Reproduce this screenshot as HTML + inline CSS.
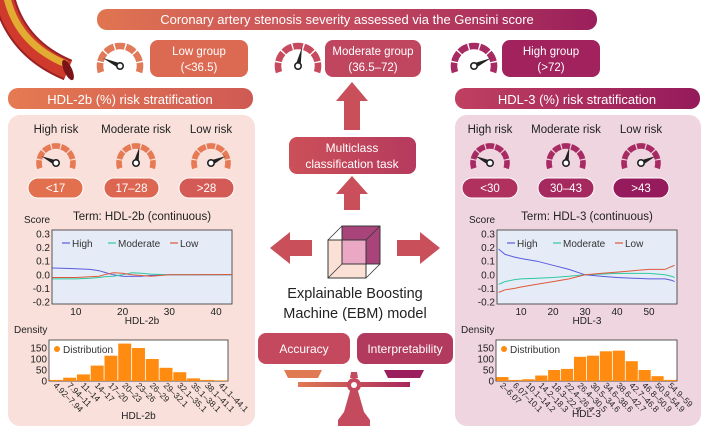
<!DOCTYPE html>
<html><head><meta charset="utf-8"><style>
body{margin:0;background:#fff}
svg{display:block;font-family:"Liberation Sans",sans-serif}
</style></head><body>
<svg id="s" width="708" height="433" viewBox="0 0 708 433" xmlns="http://www.w3.org/2000/svg">
<defs>
<linearGradient id="gTop" x1="0" x2="1"><stop offset="0" stop-color="#e07550"/><stop offset="0.5" stop-color="#c44a5e"/><stop offset="1" stop-color="#9a1f5c"/></linearGradient>
<linearGradient id="gL" x1="0" x2="1"><stop offset="0" stop-color="#e57a52"/><stop offset="1" stop-color="#cf5a54"/></linearGradient>
<linearGradient id="gR" x1="0" x2="1"><stop offset="0" stop-color="#c04060"/><stop offset="1" stop-color="#951a5b"/></linearGradient>
<linearGradient id="gC" x1="0" x2="1"><stop offset="0" stop-color="#cc5058"/><stop offset="1" stop-color="#b53a5e"/></linearGradient>
<linearGradient id="gScale" x1="0" x2="1"><stop offset="0" stop-color="#e07a52"/><stop offset="1" stop-color="#a8285e"/></linearGradient>
<clipPath id="clipL"><rect x="52" y="230" width="180" height="74"/></clipPath>
<clipPath id="clipR"><rect x="497" y="230" width="180" height="74"/></clipPath>
</defs>

<!-- artery -->
<g>
<path d="M4,-2 C12,30 32,55 68,70" stroke="#9a2226" stroke-width="22" fill="none"/>
<path d="M4,-2 C12,30 32,55 68,70" stroke="#cf3a2c" stroke-width="18" fill="none"/>
<path d="M7,-2 C14,27 32,50 66,64" stroke="#e3b832" stroke-width="7" fill="none" opacity="0.9"/>
<ellipse cx="68" cy="70" rx="4" ry="11" fill="#7a1418" transform="rotate(-25 68 70)"/>
</g>

<!-- top title -->
<rect x="97" y="9" width="500" height="21" rx="10" fill="url(#gTop)"/>
<text x="347" y="24" text-anchor="middle" fill="#fff" font-size="13">Coronary artery stenosis severity assessed via the Gensini score</text>

<rect x="150" y="40" width="98" height="37" rx="8" fill="#dc6a52"/>
<text x="199" y="55" text-anchor="middle" fill="#fff" font-size="11.5">Low group</text>
<text x="199" y="71" text-anchor="middle" fill="#fff" font-size="11.5">(&lt;36.5)</text>
<rect x="325" y="40" width="96" height="37" rx="8" fill="#c04660"/>
<text x="373" y="55" text-anchor="middle" fill="#fff" font-size="11.5">Moderate group</text>
<text x="373" y="71" text-anchor="middle" fill="#fff" font-size="11.5">(36.5–72)</text>
<rect x="502" y="40" width="98" height="37" rx="8" fill="#a1225c"/>
<text x="551" y="55" text-anchor="middle" fill="#fff" font-size="11.5">High group</text>
<text x="551" y="71" text-anchor="middle" fill="#fff" font-size="11.5">(&gt;72)</text>

<!-- side headers -->
<rect x="8" y="88" width="245" height="21" rx="10" fill="url(#gL)"/>
<text x="130" y="104" text-anchor="middle" fill="#fff" font-size="13">HDL-2b (%) risk stratification</text>
<rect x="455" y="88" width="245" height="21" rx="10" fill="url(#gR)"/>
<text x="577" y="104" text-anchor="middle" fill="#fff" font-size="13">HDL-3 (%) risk stratification</text>

<rect x="8" y="115" width="247" height="311" rx="12" fill="#f9e0da"/>
<rect x="455" y="115" width="246" height="311" rx="12" fill="#efd5e0"/>

<g id="gauges"></g>

<!-- center -->
<g fill="#c9505a">
<path d="M352,82 L368,101 L360,101 L360,130 L344,130 L344,101 L336,101 Z"/>
<path d="M352,176 L368,194 L360,194 L360,210 L344,210 L344,194 L336,194 Z"/>
<path d="M270,248 L290,232 L290,240 L312,240 L312,256 L290,256 L290,264 Z"/>
<path d="M440,248 L420,232 L420,240 L397,240 L397,256 L420,256 L420,264 Z"/>
</g>
<rect x="289" y="137" width="127" height="37" rx="8" fill="url(#gC)"/>
<text x="352" y="152" text-anchor="middle" fill="#fff" font-size="12">Multiclass</text>
<text x="352" y="168" text-anchor="middle" fill="#fff" font-size="12">classification task</text>

<g stroke="#333" stroke-width="0.8">
<rect x="328" y="240" width="38" height="38" fill="#fbe0d6"/>
<polygon points="342,226 380,226 380,264 342,264" fill="#a8447a"/>
<rect x="342" y="240" width="24" height="24" fill="#eba8c4"/>
<line x1="328" y1="240" x2="342" y2="226"/><line x1="366" y1="240" x2="380" y2="226"/><line x1="366" y1="278" x2="380" y2="264"/><line x1="328" y1="278" x2="342" y2="264"/>
<rect x="328" y="240" width="38" height="38" fill="none"/>
<polygon points="342,226 380,226 380,264 342,264" fill="none"/>
</g>
<text x="355" y="298" text-anchor="middle" font-size="14.5" fill="#222">Explainable Boosting</text>
<text x="355" y="318" text-anchor="middle" font-size="14.5" fill="#222">Machine (EBM) model</text>

<rect x="258" y="333" width="92" height="31" rx="8" fill="#c4485e"/>
<text x="304" y="353" text-anchor="middle" fill="#fff" font-size="12">Accuracy</text>
<rect x="357" y="333" width="96" height="31" rx="8" fill="#b23a5e"/>
<text x="405" y="353" text-anchor="middle" fill="#fff" font-size="12">Interpretability</text>

<g>
<path d="M284,370 L322,370 L318,378 L288,378 Z" fill="#e07a52"/>
<path d="M384,370 L424,370 L420,378 L388,378 Z" fill="#9a1f5c"/>
<path d="M298,382 L410,382 L410,387 L298,387 Z" fill="url(#gScale)"/>
<circle cx="354" cy="385" r="7" fill="#c44a5e"/><circle cx="354" cy="385" r="3" fill="#fff"/>
<path d="M351,372 L357,372 L358,378 L350,378 Z" fill="#c44a5e"/>
<path d="M350,391 L358,391 L364,412 L370,420 L370,426 L338,426 L338,420 L344,412 Z" fill="#c44a5e"/>
</g>

<g id="charts"></g>
</svg>
<script>
const NS='http://www.w3.org/2000/svg';
function el(tag,attrs,parent,txt){const e=document.createElementNS(NS,tag);for(const k in attrs)e.setAttribute(k,attrs[k]);if(txt!==undefined)e.textContent=txt;parent.appendChild(e);return e;}

// gauges
const gaugeLayer=document.getElementById('gauges');
function gauge(cx,cy,r,color,needleDeg){
  const g=el('g',{},gaugeLayer);
  
  
  const a0=200,a1=-20,n=7;
  const span=(a0-a1)/n;
  for(let i=0;i<n;i++){
    const s=(a0-i*span-2)*Math.PI/180, t=(a0-(i+1)*span+2)*Math.PI/180;
    el('path',{d:`M${cx+r*Math.cos(s)},${cy-r*Math.sin(s)} A${r},${r} 0 0 1 ${cx+r*Math.cos(t)},${cy-r*Math.sin(t)}`,stroke:color,'stroke-width':r*0.33,fill:'none'},g);
  }
  const a=needleDeg*Math.PI/180,L=r*0.95;
  const tx=cx+L*Math.cos(a),ty=cy-L*Math.sin(a);
  const px=Math.sin(a)*2.6,py=Math.cos(a)*2.6;
  el('polygon',{points:`${tx},${ty} ${cx+px},${cy+py} ${cx-px},${cy-py}`,fill:'#222'},g);
  el('circle',{cx:cx,cy:cy,r:3.2,fill:'#fff',stroke:'#222','stroke-width':1.6},g);
}
gauge(120,66,20,'#e07a58',155);
gauge(298,66,20,'#c84a5e',78);
gauge(474,66,20,'#a82a62',25);
[[56,'<17'],[136,'17–28'],[211,'>28']].forEach((p,i)=>{gauge(p[0],163,17,'#e57a55',[155,78,25][i]);});
[[490,'<30'],[566,'30–43'],[641,'>43']].forEach((p,i)=>{gauge(p[0],163,17,'#a82a62',[155,78,25][i]);});
function pill(x,w,color,txt,name){
  const r=el('rect',{x:x,y:178,width:w,height:20,rx:10,fill:color,stroke:'#fff','stroke-width':1},gaugeLayer);
  
  
  el('text',{x:x+w/2,y:192,'text-anchor':'middle',fill:'#fff','font-size':11.5},gaugeLayer,txt);
}
pill(28,55,'#e2704f','<17','pill-lt17');pill(104,55,'#dc6652','17–28','pill-17-28');pill(179,55,'#d45a55','>28','pill-gt28');
pill(462,56,'#b0305e','<30','pill-lt30');pill(538,56,'#a5285e','30–43','pill-30-43');pill(613,56,'#951b5c','>43','pill-gt43');
[[56,'High risk'],[136,'Moderate risk'],[211,'Low risk'],[490,'High risk'],[566,'Moderate risk'],[641,'Low risk']].forEach(p=>{
  const t=el('text',{x:p[0],y:133,'text-anchor':'middle','font-size':11.5,fill:'#222'},gaugeLayer,p[1]);
  
  
});

// ===== chart data =====
const hdl2bX=[5,8,10,13,15,16,18,20,22,24,26,30,35,44];
const hdl2bHigh=[0.05,0.047,0.045,0.04,0.03,0.02,0.0,-0.01,-0.012,-0.01,-0.005,0.0,0.0,0.0];
const hdl2bModerate=[-0.03,-0.03,-0.03,-0.025,-0.02,-0.015,-0.01,0.0,0.015,0.012,0.005,0.0,0.0,0.0];
const hdl2bLow=[-0.02,-0.02,-0.02,-0.015,-0.01,0.0,0.015,0.012,0.0,-0.005,-0.01,0.0,0.0,0.002];
const hdl3X=[3,4,5,8,10,15,20,25,30,35,40,45,50,55,57,58];
const hdl3High=[0.19,0.17,0.15,0.13,0.12,0.1,0.07,0.04,0.0,-0.01,-0.02,-0.025,-0.03,-0.03,-0.04,-0.05];
const hdl3Moderate=[-0.07,-0.06,-0.05,-0.035,-0.03,-0.025,-0.02,-0.01,0.0,0.005,0.01,0.01,0.01,0.0,-0.01,-0.02];
const hdl3Low=[-0.13,-0.12,-0.11,-0.1,-0.09,-0.07,-0.05,-0.03,0.0,0.01,0.02,0.03,0.04,0.04,0.06,0.07];
const scoreTicks=[0.3,0.2,0.1,0.0,-0.1,-0.2];
const scoreTickLabels=['0.3','0.2','0.1','0.0','-0.1','-0.2'];
const hdl2bXTicks=[10,20,30,40];
const hdl3XTicks=[10,20,30,40,50];
const hdl2bBins=['4.92–7.94','7.94–11','11–14','14–17','17–20','20–23','23–26','26–29','29–32.1','32.1–35.1','35.1–38.1','38.1–41.1','41.1–44.1'];
const hdl2bCounts=[5,15,30,70,115,170,150,100,60,40,12,5,3];
const hdl3Bins=['2–6.07','6.07–10.1','10.1–14.2','14.2–18.3','18.3–22.4','22.4–26.4','26.4–30.5','30.5–34.6','34.6–38.6','38.6–42.7','42.7–46.8','46.8–50.9','50.9–54.9','54.9–59'];
const hdl3Counts=[18,5,8,25,50,55,110,115,135,138,90,50,22,5];
const densityTicks=[150,100,50,0];
const seriesNames=['High','Moderate','Low'];
const seriesColors=['#5a5adf','#2fc8a0','#e0583a'];

const C=document.getElementById('charts');
function lineChart(o){
  const L=o.x0,R=o.x1,T=230,B=304;
  const xs=v=>L+(v-o.dmin)/(o.dmax-o.dmin)*(R-L);
  const ys=v=>234+(0.3-v)/0.5*68;
  const g=el('g',{},C);
  
  
  el('rect',{x:L,y:T,width:R-L,height:B-T,fill:'#e5ecf7',stroke:'#333','stroke-width':0.8},g);
  el('text',{x:(L+R)/2,y:220,'text-anchor':'middle','font-size':11.5,fill:'#222'},g,o.title);
  el('text',{x:L-28,y:223,'font-size':10,fill:'#222'},g,'Score');
  scoreTicks.forEach((t,i)=>{
    const tl=el('text',{x:L-2,y:ys(t)+3.5,'text-anchor':'end','font-size':10,fill:'#222'},g,scoreTickLabels[i]);
    
    
  });
  o.xticks.forEach(t=>{
    const tl=el('text',{x:xs(t),y:315,'text-anchor':'middle','font-size':10,fill:'#222'},g,String(t));
    
    
  });
  el('text',{x:(L+R)/2,y:324,'text-anchor':'middle','font-size':10,fill:'#222'},g,o.xlabel);
  const lg0=el('g',{'clip-path':o.clip},g);
  o.series.forEach((s,k)=>{
    let d='';
    o.xv.forEach((x,i)=>{d+=(i?'L':'M')+xs(x).toFixed(1)+','+ys(s[i]).toFixed(1);});
    const p=el('path',{d:d,stroke:seriesColors[k],'stroke-width':1,fill:'none'},lg0);
    
    
  });
  const lx=[L+10,L+56,L+118];
  seriesNames.forEach((n,k)=>{
    const lg=el('g',{},g);
    
    
    el('line',{x1:lx[k],x2:lx[k]+8,y1:243,y2:243,stroke:seriesColors[k],'stroke-width':1.2},lg);
    el('text',{x:lx[k]+10,y:247,'font-size':10,fill:'#333'},lg,n);
  });
}
function hist(o){
  const L=o.x0,R=o.x1,T=340,B=381;
  const ys=v=>B-v/150*33;
  const bw=(R-L)/o.counts.length;
  const g=el('g',{},C);
  
  
  el('rect',{x:L,y:T,width:R-L,height:B-T,fill:'#fff',stroke:'#333','stroke-width':0.8},g);
  el('text',{x:L-35,y:333,'font-size':10,fill:'#222'},g,'Density');
  densityTicks.forEach(t=>{
    const tl=el('text',{x:L-2,y:ys(t)+3.5,'text-anchor':'end','font-size':10,fill:'#222'},g,String(t));
    
    
  });
  o.counts.forEach((c,i)=>{
    const r=el('rect',{x:L+i*bw+0.4,y:ys(c),width:bw-0.8,height:B-ys(c),fill:'#ff8c10'},g);
    
    
    const cx=L+(i+0.5)*bw-3;
    const t=el('text',{x:cx,y:B+5,'font-size':8.5,fill:'#222',transform:`rotate(45 ${cx} ${B+5})`},g,o.bins[i]);
    
    
  });
  el('circle',{cx:L+8,cy:T+9,r:3,fill:'#ff8c10'},g);
  el('text',{x:L+14,y:T+13,'font-size':10,fill:'#333'},g,'Distribution');
  el('text',{x:(L+R)/2,y:o.xly,'text-anchor':'middle','font-size':10,fill:'#222'},g,o.xlabel);
}
lineChart({name:'hdl2b',x0:52,x1:232,dmin:4.9,dmax:43.4,clip:'url(#clipL)',title:'Term: HDL-2b (continuous)',xlabel:'HDL-2b',xticks:hdl2bXTicks,xv:hdl2bX,series:[hdl2bHigh,hdl2bModerate,hdl2bLow]});
lineChart({name:'hdl3',x0:497,x1:677,dmin:2.5,dmax:58.75,clip:'url(#clipR)',title:'Term: HDL-3 (continuous)',xlabel:'HDL-3',xticks:hdl3XTicks,xv:hdl3X,series:[hdl3High,hdl3Moderate,hdl3Low]});
hist({name:'hdl2b',x0:49,x1:228,counts:hdl2bCounts,bins:hdl2bBins,xlabel:'HDL-2b',xly:419});
hist({name:'hdl3',x0:496,x1:677,counts:hdl3Counts,bins:hdl3Bins,xlabel:'HDL-3',xly:417});
</script>
</body></html>
